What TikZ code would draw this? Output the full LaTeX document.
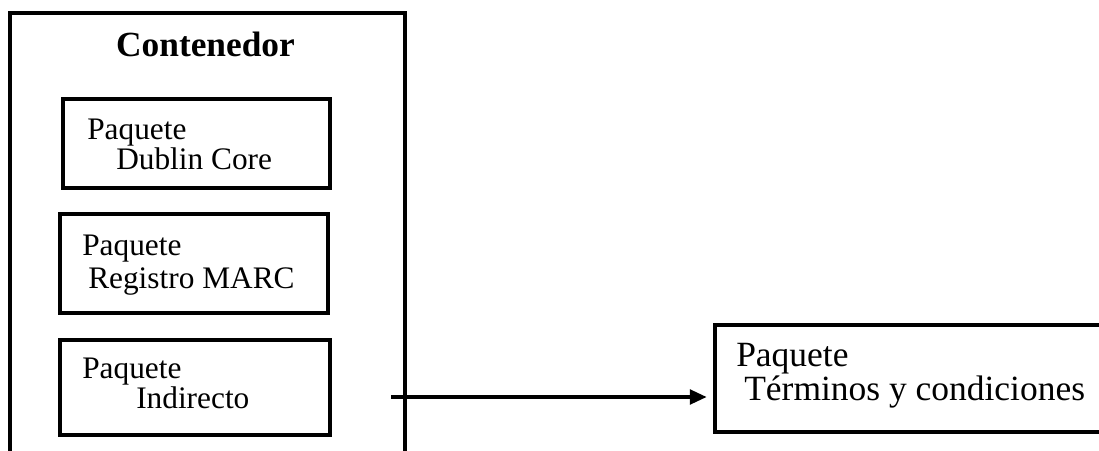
\documentclass[tikz,border=0pt]{standalone}
\usepackage{fontspec}
\setmainfont{Liberation Serif}
\usetikzlibrary{arrows.meta}
\tikzset{
	pkg/.style 2 args={draw, line width=2.6pt, inner sep=0pt, minimum width=#1*0.75pt, minimum height=#2*0.75pt},
	pkgtext/.style={anchor=base west, align=left, inner sep=0pt, font=\fontsize{23.5}{22.5}\selectfont},
}
\begin{document}
\begin{tikzpicture}[x=0.75pt, y=-0.75pt]
	\useasboundingbox (0, 0) rectangle (1099, 450);
	\clip (0, 0) rectangle (1099, 450);

	\node[pkg={395}{457}, line width=2.3pt] (cont) at (207.5, 241.5) {};
	\node[anchor=base, inner sep=0pt, font=\bfseries\fontsize{26.5}{30}\selectfont] (title) at (205.5, 56) {Contenedor};

	\node[pkg={267}{89}] (dc) at (196.5, 143.5) {};
	\node[pkg={268}{99}] (marc) at (194, 263.5) {};
	\node[pkg={270}{95}] (ind) at (195, 387.5) {};
	\node[pkg={405}{107}] (tyc) at (917.5, 378.5) {};

	\node[pkgtext] (dctext) at (87, 169) {Paquete\\\hspace*{21.75pt}Dublin Core};
	\node[pkgtext] (marctext) at (82, 288) {Paquete\\[2.25pt]\hspace*{4.5pt}Registro MARC};
	\node[pkgtext] (indtext) at (82, 408) {Paquete\\\hspace*{40.5pt}Indirecto};
	\node[pkgtext, font=\fontsize{26.6}{23}\selectfont] (tyctext) at (736, 400) {Paquete\\\hspace*{6pt}Términos y condiciones};

	\coordinate (start) at (391, 397);
	\draw[line width=2.3pt, -{Triangle[length=12.5pt, width=11pt]}, shorten >=5pt] (start) -- (start -| tyc.west);
\end{tikzpicture}
\end{document}
